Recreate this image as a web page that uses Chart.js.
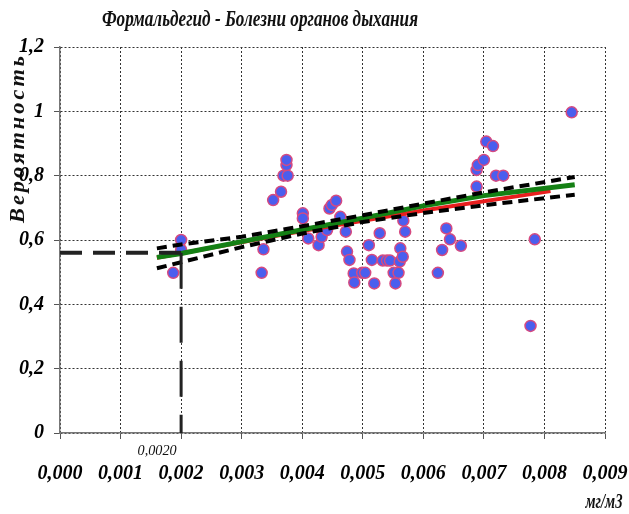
<!DOCTYPE html>
<html>
<head>
<meta charset="utf-8">
<script src="https://cdn.jsdelivr.net/npm/chart.js@4.4.1/dist/chart.umd.min.js"></script>
<style>
    html, body { margin: 0; padding: 0; background: #fff; }
    #wrap { width: 629px; height: 514px; }
</style>
</head>
<body>
<div id="wrap"><canvas id="riskChart" width="629" height="514"></canvas></div>
<script>
// observed points: concentration (mg/m3) and probability
const pointX = [0.00187, 0.00200, 0.00200, 0.00333, 0.00336, 0.00352, 0.00365, 0.00369, 0.00376, 0.00374,
    0.00374, 0.00401, 0.00401, 0.00410, 0.00427, 0.00432, 0.00441, 0.00445, 0.00449, 0.00456,
    0.00463, 0.00472, 0.00474, 0.00478, 0.00485, 0.00486, 0.00499, 0.00504, 0.00510, 0.00515,
    0.00519, 0.00528, 0.00533, 0.00540, 0.00545, 0.00551, 0.00559, 0.00554, 0.00561, 0.00562,
    0.00566, 0.00570, 0.00567, 0.00624, 0.00631, 0.00638, 0.00644, 0.00662, 0.00688, 0.00688,
    0.00690, 0.00700, 0.00704, 0.00715, 0.00720, 0.00732, 0.00777, 0.00784, 0.00845];
const pointY = [0.498, 0.600, 0.570, 0.498, 0.571, 0.724, 0.750, 0.800, 0.800, 0.833,
    0.849, 0.683, 0.667, 0.605, 0.584, 0.610, 0.631, 0.698, 0.709, 0.722,
    0.672, 0.626, 0.564, 0.538, 0.496, 0.468, 0.498, 0.498, 0.584, 0.538,
    0.465, 0.621, 0.536, 0.536, 0.536, 0.498, 0.498, 0.465, 0.533, 0.574,
    0.548, 0.626, 0.660, 0.498, 0.569, 0.636, 0.602, 0.582, 0.766, 0.818,
    0.833, 0.849, 0.906, 0.892, 0.800, 0.800, 0.333, 0.602, 0.997];

// regression curve (green) with confidence limits (black dashed)
const fitX = [0.0016, 0.002, 0.003, 0.004, 0.005, 0.006, 0.007, 0.0085];
const fitY = [0.546, 0.558, 0.595, 0.632, 0.668, 0.706, 0.738, 0.772];
const upperY = [0.574, 0.586, 0.610, 0.643, 0.677, 0.713, 0.748, 0.796];
const lowerY = [0.512, 0.531, 0.578, 0.620, 0.656, 0.684, 0.708, 0.741];

// second curve (red)
const redX = [0.0016, 0.004, 0.006, 0.0081];
const redY = [0.545, 0.628, 0.692, 0.752];

// threshold marker
const thresholdX = 0.002;
const thresholdY = 0.56;

const xTickValues = [0, 0.001, 0.002, 0.003, 0.004, 0.005, 0.006, 0.007, 0.008, 0.009];
const yTickValues = [0, 0.2, 0.4, 0.6, 0.8, 1, 1.2];

const titleText = 'Формальдегид - Болезни органов дыхания';
const yTitleText = 'Вероятность';
const unitText = 'мг/м3';
const thresholdText = '0,0020';

function toXY(xs, ys) {
    return xs.map((x, i) => ({ x: x, y: ys[i] }));
}

// draws text squeezed/stretched to a given width
function fitText(ctx, text, cx, cy, width, font, spacing) {
    ctx.save();
    ctx.font = font;
    ctx.letterSpacing = (spacing || 0) + 'px';
    ctx.textAlign = 'center';
    ctx.textBaseline = 'middle';
    let w = ctx.measureText(text).width;
    ctx.translate(cx, cy);
    ctx.scale(width / w, 1);
    ctx.fillText(text, 0, 0);
    ctx.restore();
}

const textPlugin = {
    id: 'chartTexts',
    afterDraw(chart) {
        const ctx = chart.ctx;
        const xs = chart.scales.x;
        ctx.save();
        ctx.fillStyle = '#111';
        fitText(ctx, titleText, 260, 20, 316, 'italic bold 24px "Liberation Serif"');
        fitText(ctx, unitText, 604, 503, 37, 'italic bold 20px "Liberation Serif"');
        fitText(ctx, thresholdText, xs.getPixelForValue(thresholdX) - 24, 451, 39, 'italic 14px "Liberation Serif"');
        ctx.translate(18, 138);
        ctx.rotate(-Math.PI / 2);
        fitText(ctx, yTitleText, 0, 0, 170, 'italic bold 22px "Liberation Serif"', 3);
        ctx.restore();
    }
};

const tickFont = { family: 'Liberation Serif', size: 20, style: 'italic', weight: 'bold' };

let ctx = document.getElementById('riskChart').getContext('2d');
let riskChart = new Chart(ctx, {
    type: 'scatter',
    data: {
        datasets: [{
            label: 'threshold h',
            data: [{ x: 0, y: thresholdY }, { x: thresholdX, y: thresholdY }],
            showLine: true,
            borderColor: '#222',
            borderWidth: 4,
            borderDash: [22, 11],
            pointRadius: 0,
            order: 0
        }, {
            label: 'threshold v',
            data: [{ x: thresholdX, y: thresholdY }, { x: thresholdX, y: 0 }],
            showLine: true,
            borderColor: '#222',
            borderWidth: 3,
            borderDash: [36, 18],
            pointRadius: 0,
            order: 0
        }, {
            label: 'upper',
            data: toXY(fitX, upperY),
            showLine: true,
            borderColor: '#000',
            borderWidth: 4,
            borderDash: [10, 6],
            pointRadius: 0,
            order: 0
        }, {
            label: 'lower',
            data: toXY(fitX, lowerY),
            showLine: true,
            borderColor: '#000',
            borderWidth: 4,
            borderDash: [10, 6],
            pointRadius: 0,
            order: 0
        }, {
            label: 'fit',
            data: toXY(fitX, fitY),
            showLine: true,
            borderColor: 'rgb(20, 128, 20)',
            borderWidth: 5,
            pointRadius: 0,
            order: 1
        }, {
            label: 'red',
            data: toXY(redX, redY),
            showLine: true,
            borderColor: 'rgb(232, 30, 30)',
            borderWidth: 4,
            pointRadius: 0,
            order: 2
        }, {
            label: 'points',
            data: toXY(pointX, pointY),
            backgroundColor: 'rgb(74, 94, 238)',
            borderColor: 'rgb(214, 74, 128)',
            borderWidth: 1.5,
            pointRadius: 5.5,
            order: 3
        }]
    },
    options: {
        responsive: false,
        animation: false,
        layout: { padding: { top: 47, right: 24, left: 0, bottom: 0 } },
        plugins: {
            legend: { display: false },
            title: { display: false },
            tooltip: { enabled: false }
        },
        scales: {
            x: {
                type: 'linear',
                min: 0,
                max: 0.009,
                afterBuildTicks: scale => { scale.ticks = xTickValues.map(v => ({ value: v })); },
                afterFit: scale => {
                    scale.height = 81;
                    // labels may overhang the plot edges, as in the original
                    scale.paddingLeft = 0;
                    scale.paddingRight = 0;
                },
                ticks: {
                    autoSkip: false,
                    maxRotation: 0,
                    padding: 23,
                    color: '#000',
                    font: tickFont,
                    callback: v => v.toFixed(3).replace('.', ',')
                },
                grid: { color: '#333', lineWidth: 1, tickLength: 6, tickColor: '#555' },
                border: { display: true, color: '#777', width: 1.5, dash: [2, 2] }
            },
            y: {
                min: 0,
                max: 1.2,
                afterBuildTicks: scale => { scale.ticks = yTickValues.map(v => ({ value: v })); },
                afterFit: scale => { scale.width = 60; },
                ticks: {
                    padding: 10,
                    color: '#000',
                    font: tickFont,
                    callback: v => String(Math.round(v * 10) / 10).replace('.', ',')
                },
                grid: { color: '#333', lineWidth: 1, tickLength: 6, tickColor: '#555' },
                border: { display: true, color: '#777', width: 1.5, dash: [2, 2] }
            }
        }
    },
    plugins: [textPlugin]
});
</script>
</body>
</html>
